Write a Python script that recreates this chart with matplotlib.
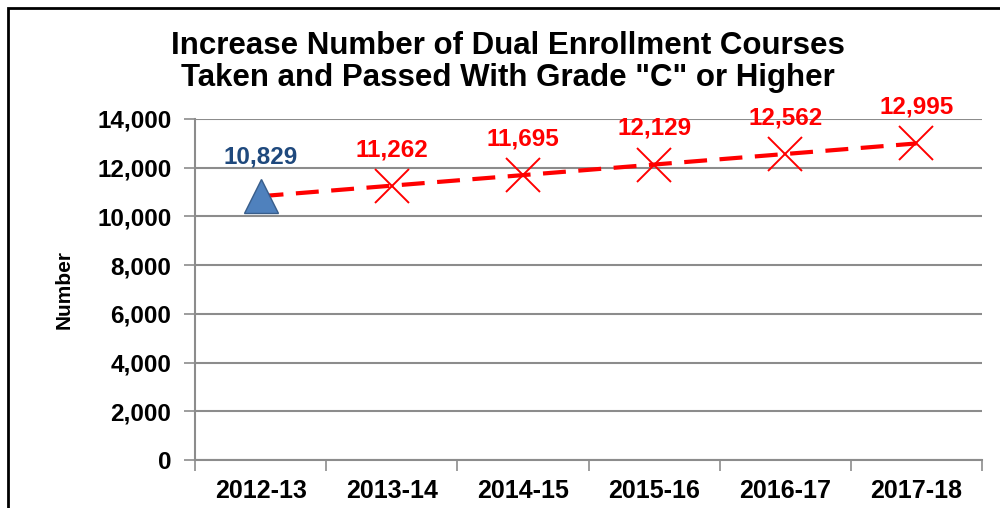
import numpy as np
import matplotlib.pyplot as plt
from matplotlib.patches import Rectangle

plt.rcParams['font.family'] = ['Liberation Sans', 'DejaVu Sans']
plt.rcParams['font.weight'] = 'bold'

years = ["2012-13", "2013-14", "2014-15", "2015-16", "2016-17", "2017-18"]
courses = [10829, 11262, 11695, 12129, 12562, 12995]
labels = ["10,829", "11,262", "11,695", "12,129", "12,562", "12,995"]
y_ticks = [0, 2000, 4000, 6000, 8000, 10000, 12000, 14000]

grid_col = "#8C8C8C"
red = "#FF0000"

fig = plt.figure(figsize=(10, 5.08), dpi=100)
ax = fig.add_axes([0.195, 0.0945, 0.787, 0.6713])

x = np.arange(len(years))

# dashed trend line, behind markers
ax.plot(x, courses, color=red, linewidth=3, dashes=(5.5, 3), zorder=2)
# baseline year as triangle, the targets as crosses
ax.plot(x[:1], courses[:1], marker='^', markersize=25, color="#4F81BD",
        markeredgecolor="#385D8A", markeredgewidth=1, linestyle='none', zorder=3)
ax.plot(x[1:], courses[1:], marker='x', markersize=24, color=red,
        markeredgewidth=1.4, linestyle='none', zorder=3)

for i, (v, s) in enumerate(zip(courses, labels)):
    col = "#1F497D" if i == 0 else red
    ax.annotate(s, (i, v), xytext=(0, 28 if i == 0 else 26), textcoords='offset points',
                ha='center', va='center', fontsize=17.5, fontweight='bold', color=col)

ax.set_xlim(-0.5, 5.5)
ax.set_ylim(0, 14000)
ax.set_yticks(y_ticks)
ax.set_yticklabels([f"{t:,}" for t in y_ticks], fontsize=17.5, fontweight='bold')
ax.set_xticks(x)
ax.set_xticklabels(years, fontsize=18, fontweight='bold')
ax.set_xticks(np.arange(-0.5, 6, 1), minor=True)
ax.tick_params(axis='x', which='major', length=0, pad=14)
ax.tick_params(axis='x', which='minor', length=8, color=grid_col, width=1.2, direction='out')
ax.tick_params(axis='y', length=8, color=grid_col, width=1.2, pad=9)

ax.yaxis.grid(True, color=grid_col, linewidth=1.5)
ax.set_axisbelow(True)
for side in ['top', 'right']:
    ax.spines[side].set_visible(False)
for side in ['left', 'bottom']:
    ax.spines[side].set_color(grid_col)
    ax.spines[side].set_linewidth(1.5)

ax.set_ylabel("Number", fontsize=15, fontweight='bold', labelpad=17)

fig.text(0.508, 0.878, "Increase Number of Dual Enrollment Courses\nTaken and Passed With Grade \"C\" or Higher",
         ha='center', va='center', fontsize=22.5, fontweight='bold', linespacing=1.12)

# chart frame
fig.patches.append(Rectangle((0.008, -0.1), 1.2, 1.084, transform=fig.transFigure,
                             fill=False, edgecolor='black', linewidth=2))

fig.savefig("out.png", dpi=100)
